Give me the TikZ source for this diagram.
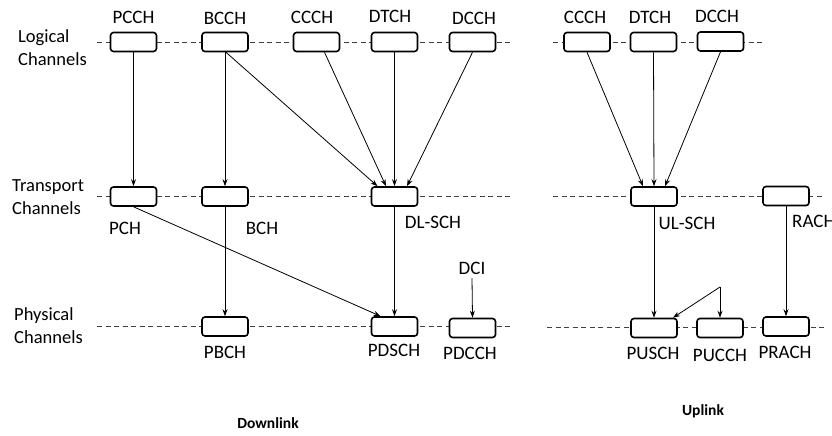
\documentclass[tikz,border=0pt]{standalone}
\usepackage{fontspec}
\setmainfont{Carlito}
\usetikzlibrary{arrows.meta,calc}
\begin{document}
\begin{tikzpicture}[x=1pt,y=-1pt,
  chbox/.style={draw=black,line width=1.6pt,rounded corners=3pt,minimum width=46pt,minimum height=19pt,inner sep=0pt,fill=white},
  lbl/.style={font=\fontsize{19}{22}\selectfont,inner sep=0pt},
  side/.style={font=\fontsize{18.5}{23}\selectfont,inner sep=0pt,align=left,anchor=west},
  title/.style={font=\fontsize{15.5}{18}\selectfont\bfseries,inner sep=0pt},
  level/.style={draw=black!75,line width=0.8pt,dash pattern=on 5pt off 3.5pt},
  conn/.style={draw=black,line width=0.8pt,-{Stealth[length=7pt,width=5pt]}},
  plain/.style={draw=black,line width=0.8pt}]
\useasboundingbox (0,0) rectangle (832,436);
% level lines
\coordinate (l1a) at (97,42); \coordinate (l1b) at (510,42);
\coordinate (l2a) at (97,196); \coordinate (l2b) at (510,196);
\coordinate (l3a) at (97,326); \coordinate (l3b) at (510,326);
\coordinate (u1a) at (553,42); \coordinate (u1b) at (763,42);
\coordinate (u2a) at (553,196); \coordinate (u2b) at (823,196);
\coordinate (u3a) at (547,327); \coordinate (u3b) at (827,327);
\draw[level] (l1a) -- (l1b);
\draw[level] (l2a) -- (l2b);
\draw[level] (l3a) -- (l3b);
\draw[level] (u1a) -- (u1b);
\draw[level] (u2a) -- (u2b);
\draw[level] (u3a) -- (u3b);
% side labels
\node[side] (logical) at (18,48) {Logical\\Channels};
\node[side] (transport) at (12,197) {Transport\\Channels};
\node[side] (physical) at (14,326) {Physical\\Channels};
% downlink logical
\node[chbox] (pcch) at (133.5,42) {};
\node[chbox] (bcch) at (225,42) {};
\node[chbox] (ccch) at (316.5,42) {};
\node[chbox] (dtch) at (394.5,42) {};
\node[chbox] (dcch) at (472.5,42) {};
\node[lbl] (tpcch) at (133.5,17) {PCCH};
\node[lbl] (tbcch) at (225,18) {BCCH};
\node[lbl] (tccch) at (312,17) {CCCH};
\node[lbl] (tdtch) at (390,16) {DTCH};
\node[lbl] (tdcch) at (474,18) {DCCH};
% downlink transport
\node[chbox] (pch) at (133.5,196.5) {};
\node[chbox] (bch) at (225,196.5) {};
\node[chbox] (dlsch) at (394.5,196.5) {};
\node[lbl] (tpch) at (125,228) {PCH};
\node[lbl] (tbch) at (262,228) {BCH};
\node[lbl] (tdlsch) at (433,222) {DL-SCH};
\node[lbl] (tdci) at (472,268) {DCI};
\coordinate (dcitop) at (472,278);
% downlink physical
\node[chbox] (pbch) at (225,326.5) {};
\node[chbox] (pdsch) at (394.5,326.5) {};
\node[chbox] (pdcch) at (472.5,328) {};
\node[lbl] (tpbch) at (225,352) {PBCH};
\node[lbl] (tpdsch) at (394,350) {PDSCH};
\node[lbl] (tpdcch) at (470,353) {PDCCH};
% uplink logical
\node[chbox] (uccch) at (587,42) {};
\node[chbox] (udtch) at (653.5,42) {};
\node[chbox] (udcch) at (720.5,41.5) {};
\node[lbl] (tuccch) at (585,17) {CCCH};
\node[lbl] (tudtch) at (650,17) {DTCH};
\node[lbl] (tudcch) at (717,16) {DCCH};
% uplink transport
\node[chbox] (ulsch) at (654,196.5) {};
\node[chbox] (rach) at (786,196) {};
\node[lbl] (tulsch) at (687,223) {UL-SCH};
\node[lbl,anchor=west] (trach) at (792,221) {RACH};
% uplink physical
\node[chbox] (pusch) at (654,328) {};
\node[chbox] (pucch) at (720,328) {};
\node[chbox] (prach) at (786,326.5) {};
\node[lbl] (tpusch) at (653,353) {PUSCH};
\node[lbl] (tpucch) at (720,355) {PUCCH};
\node[lbl] (tprach) at (785,352) {PRACH};
\coordinate (split) at (720,287);
% titles
\node[title] (down) at (268,423) {Downlink};
\node[title] (up) at (703,411) {Uplink};
% downlink connectors
\draw[conn] (pcch.south) -- (pch.north);
\draw[conn] (bcch.south) -- (bch.north);
\draw[conn] ([xshift=1pt]bcch.south) -- ([xshift=-17pt]dlsch.north);
\draw[conn] ([xshift=8pt]ccch.south) -- ([xshift=-8.5pt]dlsch.north);
\draw[conn] (dtch.south) -- (dlsch.north);
\draw[conn] (dcch.south) -- ([xshift=12.5pt]dlsch.north);
\draw[conn] (pch.south) -- ([xshift=-14pt]pdsch.north);
\draw[conn] (bch.south) -- (pbch.north);
\draw[conn] (dlsch.south) -- (pdsch.north);
\draw[conn] (dcitop) -- (pdcch.north);
% uplink connectors
\draw[conn] (uccch.south) -- ([xshift=-11pt]ulsch.north);
\draw[conn] (udtch.south) -- (ulsch.north);
\draw[conn] (udcch.south) -- ([xshift=11pt]ulsch.north);
\draw[conn] (ulsch.south) -- (pusch.north);
\draw[conn] (rach.south) -- (prach.north);
\draw[conn] (split) -- ([xshift=19pt]pusch.north);
\draw[conn] (split) -- (pucch.north);
\end{tikzpicture}
\end{document}
